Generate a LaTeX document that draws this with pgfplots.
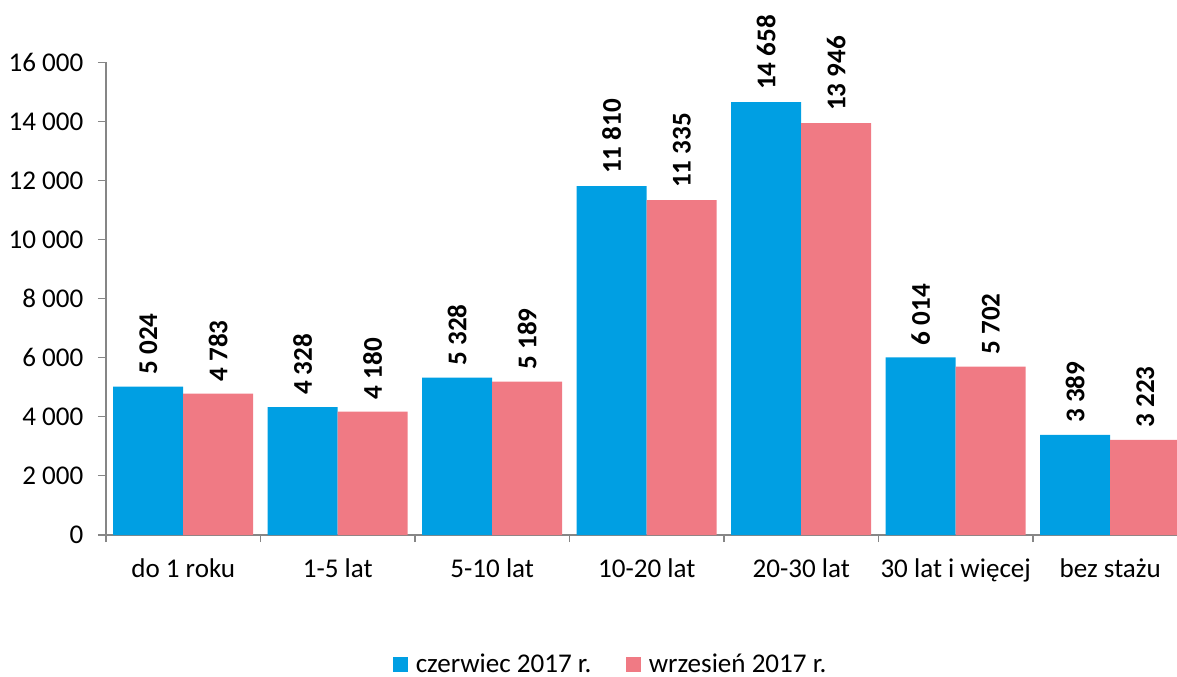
\documentclass[border=0pt]{standalone}
\usepackage{fontspec}
\setmainfont{Carlito}
\usepackage{pgfplots}
\pgfplotsset{compat=1.18}
\definecolor{cblue}{HTML}{009FE3}
\definecolor{cpink}{HTML}{F07A84}
\definecolor{axgray}{HTML}{868686}
\newcommand{\cfont}{\fontsize{20.3}{24}\selectfont}
\begin{document}
\begin{tikzpicture}
\cfont
\begin{axis}[
  at={(0,0)}, anchor=south west,
  scale only axis,
  width=811.1pt, height=354.4pt,
  xmin=-0.5, xmax=6.5, ymin=0, ymax=16000,
  enlargelimits=false,
  clip=false,
  axis x line=bottom, axis y line=left,
  axis line style={draw=axgray, line width=0.8pt, -},
  xtick={0,1,2,3,4,5,6},
  xticklabels={do 1 roku,1-5 lat,5-10 lat,10-20 lat,20-30 lat,30 lat i więcej,bez stażu},
  minor xtick={-0.5,0.5,1.5,2.5,3.5,4.5,5.5},
  x tick style={draw=none},
  minor x tick style={draw=axgray, line width=0.8pt},
  minor tick length=5.25pt,
  ytick={0,2000,...,16000},
  y tick style={draw=axgray, line width=0.8pt},
  major tick length=6pt,
  tick align=outside,
  scaled y ticks=false,
  /pgf/number format/assume math mode=true,
  /pgf/number format/1000 sep={\ },
  yticklabel style={font=\cfont, xshift=-4pt},
  xticklabel style={font=\cfont, yshift=-5pt},
  ybar=0pt,
  bar width=0.4531,
  nodes near coords,
  nodes near coords style={rotate=90, anchor=west, font=\cfont\bfseries, inner xsep=9pt},
  legend columns=2,
  legend style={at={(0.467,-0.275)}, anchor=center, draw=none, fill=none,
    font=\cfont,
    /tikz/every even column/.append style={column sep=24pt}},
  legend image code/.code={\fill[#1] (0pt,-5.6pt) rectangle (11.25pt,5.6pt); \path (15pt,0pt);},
]
\addplot[fill=cblue, draw=none] coordinates {(0,5024) (1,4328) (2,5328) (3,11810) (4,14658) (5,6014) (6,3389)};
\addplot[fill=cpink, draw=none] coordinates {(0,4783) (1,4180) (2,5189) (3,11335) (4,13946) (5,5702) (6,3223)};
\legend{czerwiec 2017 r., wrzesień 2017 r.}
\end{axis}
\pgfresetboundingbox
\useasboundingbox (-79.5pt,-106.5pt) rectangle (803.25pt,401.25pt);
\end{tikzpicture}
\end{document}
